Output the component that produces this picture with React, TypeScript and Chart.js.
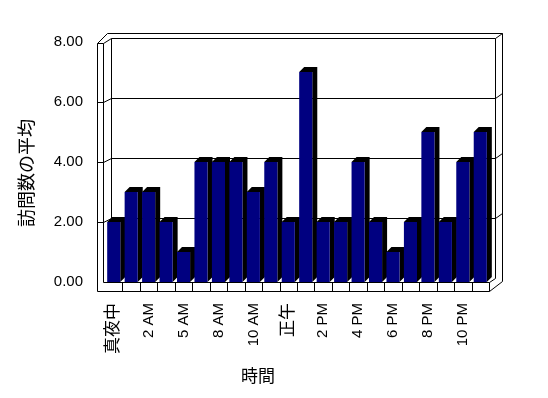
import React, { useEffect, useRef } from 'react';
import { Chart, registerables } from 'chart.js';

Chart.register(...registerables);

const hourLabels = ['真夜中', '1 AM', '2 AM', '3 AM', '5 AM', '6 AM', '8 AM', '9 AM', '10 AM', '11 AM', '正午', '1 PM', '2 PM', '3 PM', '4 PM', '5 PM', '6 PM', '7 PM', '8 PM', '9 PM', '10 PM', '11 PM'];
const avgVisits = [2, 3, 3, 2, 1, 4, 4, 4, 3, 4, 2, 7, 2, 2, 4, 2, 1, 2, 5, 2, 4, 5];
const yTickValues = [0, 2, 4, 6, 8];
const yTitle = '訪問数の平均';
const xTitle = '時間';

const FONT = "'Liberation Sans', 'Noto Sans CJK JP', sans-serif";
const CJK_FONT = "'Noto Sans CJK JP', 'Liberation Sans', sans-serif";

const px = (v: number) => Math.round(v) + 0.5;

const excel3d = {
  id: 'excel3d',
  beforeDatasetsDraw(chart: any) {
    const { ctx, chartArea: ca, scales } = chart;
    const ys = scales.y;
    const xs = scales.x;
    const L = ca.left, R = ca.right, T = ca.top, B = ca.bottom;
    const front = (v: number) => ys.getPixelForValue(v);
    const back = (v: number) => ys.getPixelForValue(v) - 4;
    const BX = 6;
    const line = (pts: number[][]) => {
      ctx.beginPath();
      pts.forEach(([a, b], i) => (i ? ctx.lineTo(px(a), px(b)) : ctx.moveTo(px(a), px(b))));
      ctx.stroke();
    };
    ctx.save();
    ctx.strokeStyle = '#000';
    ctx.lineWidth = 1;

    line([
      [L - 8, T + 1], [L + 2, T - 9], [R + 13, T - 9], [R + 13, B - 1],
      [R, B + 9], [L - 8, B + 9], [L - 8, T + 1],
    ]);
    line([[L - 8, T + 1], [L - 2, T + 1], [L - 2, B]]);
    line([[L - 2, T + 1], [L + BX, back(8)]]);
    line([[L + BX, back(0)], [L + BX, back(8)], [R + BX, back(8)], [R + BX, back(0)]]);
    line([[R + BX, back(8)], [R + 13, T - 9]]);
    yTickValues.forEach((v) => {
      if (v === 0 || v === yTickValues[yTickValues.length - 1]) return;
      line([[L - 8, front(v)], [L - 2, front(v)], [L + BX, back(v)], [R + BX, back(v)], [R + 13, back(v) - 5]]);
    });
    line([[L - 2, B], [R, B], [R, B + 9]]);
    line([[R, B], [R + BX, back(0)]]);
    const n = hourLabels.length;
    for (let i = 0; i < n - 1; i++) {
      const xb = (xs.getPixelForValue(i) + xs.getPixelForValue(i + 1)) / 2;
      line([[xb, B], [xb, B + 9]]);
    }

    const meta = chart.getDatasetMeta(0);
    const dx = 5, dy = 5;
    ctx.fillStyle = '#000';
    meta.data.forEach((el: any) => {
      const { x, y, width, base } = el.getProps(['x', 'y', 'width', 'base'], true);
      const l = x - width / 2;
      const r = x + width / 2;
      ctx.beginPath();
      ctx.moveTo(l, y);
      ctx.lineTo(l + dx, y - dy);
      ctx.lineTo(r + dx, y - dy);
      ctx.lineTo(r + dx, base - dy);
      ctx.lineTo(r, base);
      ctx.lineTo(r, y);
      ctx.closePath();
      ctx.fill();
    });
    ctx.restore();
  },
  afterDraw(chart: any) {
    const { ctx } = chart;
    ctx.save();
    ctx.fillStyle = '#000';
    ctx.textAlign = 'center';
    ctx.textBaseline = 'middle';
    ctx.font = `17px ${CJK_FONT}`;
    ctx.fillText(xTitle, 258, 376);
    ctx.font = `18px ${CJK_FONT}`;
    ctx.translate(26, 173);
    ctx.rotate(-Math.PI / 2);
    ctx.fillText(yTitle, 0, 0);
    ctx.restore();
  },
};

export default function App() {
  const ref = useRef<HTMLCanvasElement>(null);
  useEffect(() => {
    if (!ref.current) return;
    const chart = new Chart(ref.current, {
      type: 'bar',
      data: {
        labels: hourLabels,
        datasets: [
          {
            data: avgVisits,
            backgroundColor: '#000080',
            borderWidth: 0,
            categoryPercentage: 1,
            barPercentage: 0.75,
          },
        ],
      },
      options: {
        responsive: false,
        animation: false,
        events: [],
        layout: { padding: { top: 42, right: 59, left: 0, bottom: 0 } },
        plugins: { legend: { display: false }, tooltip: { enabled: false } },
        scales: {
          x: {
            grid: { display: false, drawTicks: false },
            border: { display: false },
            afterFit: (s: any) => { s.height = 116; },
            ticks: {
              autoSkip: false,
              maxRotation: 90,
              minRotation: 90,
              padding: 21,
              color: '#000',
              font: (c: any) => {
                const lab = hourLabels[c.index] || '';
                return { family: FONT, size: /[^\x00-\x7F]/.test(lab) ? 17 : 15 };
              },
              callback: (_v: any, i: number) => (i % 2 === 0 ? hourLabels[i] : ''),
            },
          },
          y: {
            min: 0,
            max: 8,
            grid: { display: false, drawTicks: false },
            border: { display: false },
            afterFit: (s: any) => { s.width = 105; },
            afterBuildTicks: (s: any) => { s.ticks = yTickValues.map((v) => ({ value: v })); },
            ticks: {
              padding: 22,
              color: '#000',
              font: { family: FONT, size: 15 },
              callback: (v: any) => Number(v).toFixed(2),
            },
          },
        },
      },
      plugins: [excel3d],
    });
    return () => chart.destroy();
  }, []);
  return (
    <div style={{ position: 'absolute', left: 0, top: 0, width: 548, height: 398, background: '#fff' }}>
      <canvas ref={ref} width={548} height={398} style={{ display: 'block' }} />
    </div>
  );
}
